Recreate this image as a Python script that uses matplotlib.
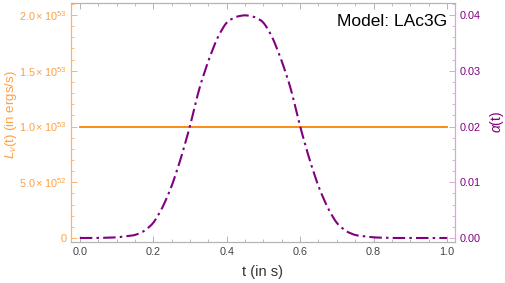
import numpy as np
import matplotlib.pyplot as plt
from matplotlib.ticker import MultipleLocator, FixedLocator, FuncFormatter

plt.rcParams['font.family'] = ['Liberation Sans', 'DejaVu Sans']
plt.rcParams['mathtext.fontset'] = 'custom'
plt.rcParams['mathtext.rm'] = 'Liberation Sans'
plt.rcParams['mathtext.it'] = 'Liberation Sans:italic'

# luminosity (constant) and alpha(t)
t_lum = [0.0, 1.0]
lum = [1.0e53, 1.0e53]

t_alpha = [0.0, 0.05, 0.10, 0.15, 0.175, 0.20, 0.225, 0.25, 0.275, 0.30, 0.325,
           0.35, 0.375, 0.40, 0.425, 0.45, 0.475, 0.50, 0.525, 0.55, 0.575,
           0.60, 0.625, 0.65, 0.675, 0.70, 0.725, 0.75, 0.80, 0.85, 0.90, 0.95, 1.0]
alpha = [0.0, 0.0, 0.0001, 0.0005, 0.0012, 0.0026, 0.0054, 0.0092, 0.0142, 0.0200, 0.0268,
         0.0318, 0.0360, 0.0388, 0.0397, 0.0400, 0.0397, 0.0388, 0.0360, 0.0318, 0.0268,
         0.0200, 0.0142, 0.0092, 0.0054, 0.0026, 0.0012, 0.0005, 0.0001, 0.0, 0.0, 0.0, 0.0]

left_ticks = [0, 0.5e53, 1.0e53, 1.5e53, 2.0e53]
left_labels = ['0', r'$5.0\times10^{52}$', r'$1.0\times10^{53}$', r'$1.5\times10^{53}$', r'$2.0\times10^{53}$']

orange = '#ff8000'
orange_lt = '#ffb366'
orange_txt = '#ffa040'
purple = '#800080'
purple_lt = '#d9a6d9'
gray = '#b3b3b3'

fig = plt.figure(figsize=(5.06, 2.83), dpi=100)
ax = fig.add_axes([71 / 506, 41 / 283, 384 / 506, 239 / 283])
ax2 = ax.twinx()

# smooth curve through the read points
tt = np.linspace(0, 1, 400)
aa = np.interp(tt, t_alpha, alpha)
k = np.ones(7) / 7
aa_s = np.convolve(np.pad(aa, 3, mode='edge'), k, mode='valid')

ax.plot(t_lum, lum, color=orange, lw=1.3, zorder=3)
ax2.plot(tt, aa_s, color=purple, lw=1.5, dashes=(6, 2, 1.2, 2))

ax.set_xlim(-0.024, 1.022)
ax.set_ylim(-0.036e53, 2.108e53)
ax2.set_ylim(-0.036 * 0.02, 2.108 * 0.02)

ax.xaxis.set_major_locator(MultipleLocator(0.2))
ax.xaxis.set_minor_locator(MultipleLocator(0.05))
ax.xaxis.set_major_formatter(FuncFormatter(lambda v, p: f'{v:.1f}'))
ax.yaxis.set_major_locator(FixedLocator(left_ticks))
ax.yaxis.set_minor_locator(MultipleLocator(0.1e53))
ax.set_yticklabels(left_labels)
ax2.yaxis.set_major_locator(MultipleLocator(0.01))
ax2.yaxis.set_minor_locator(MultipleLocator(0.002))
ax2.yaxis.set_major_formatter(FuncFormatter(lambda v, p: f'{v:.2f}'))

for a in (ax, ax2):
    for s in a.spines.values():
        s.set_linewidth(0.8)
    a.spines['top'].set_color(gray)
    a.spines['bottom'].set_color(gray)
    a.spines['left'].set_color(orange_lt)
    a.spines['right'].set_color(purple_lt)

ax.tick_params(axis='x', which='both', direction='in', top=True, colors=gray,
               labelcolor='#444444', labelsize=7.8)
ax.tick_params(axis='x', which='major', length=4, width=0.7)
ax.tick_params(axis='x', which='minor', length=2, width=0.6)
ax.tick_params(axis='y', which='both', direction='in', colors=orange_lt,
               labelcolor=orange_txt, labelsize=7.8)
ax.tick_params(axis='y', which='major', length=4, width=0.7)
ax.tick_params(axis='y', which='minor', length=2, width=0.6)
ax2.tick_params(axis='y', which='both', direction='in', colors=purple_lt,
                labelcolor=purple, labelsize=7.8)
ax2.tick_params(axis='y', which='major', length=4, width=0.7)
ax2.tick_params(axis='y', which='minor', length=2, width=0.6)

fig.text(263 / 506, 1 - 272 / 283, 't (in s)', fontsize=10.5, color='#333333',
         ha='center', va='center')
fig.text(11 / 506, 1 - 115 / 283, r'$L_\nu$(t) (in ergs/s)', fontsize=9.5, color=orange_txt,
         rotation=90, ha='center', va='center')
fig.text(497 / 506, 1 - 122 / 283, r'$\alpha$(t)', fontsize=10, color=purple,
         rotation=90, ha='center', va='center')

ax.text(0.98, 0.955, 'Model: LAc3G', transform=ax.transAxes, ha='right', va='top',
        fontsize=12.5, color='black')

fig.savefig('out.png', dpi=100)
